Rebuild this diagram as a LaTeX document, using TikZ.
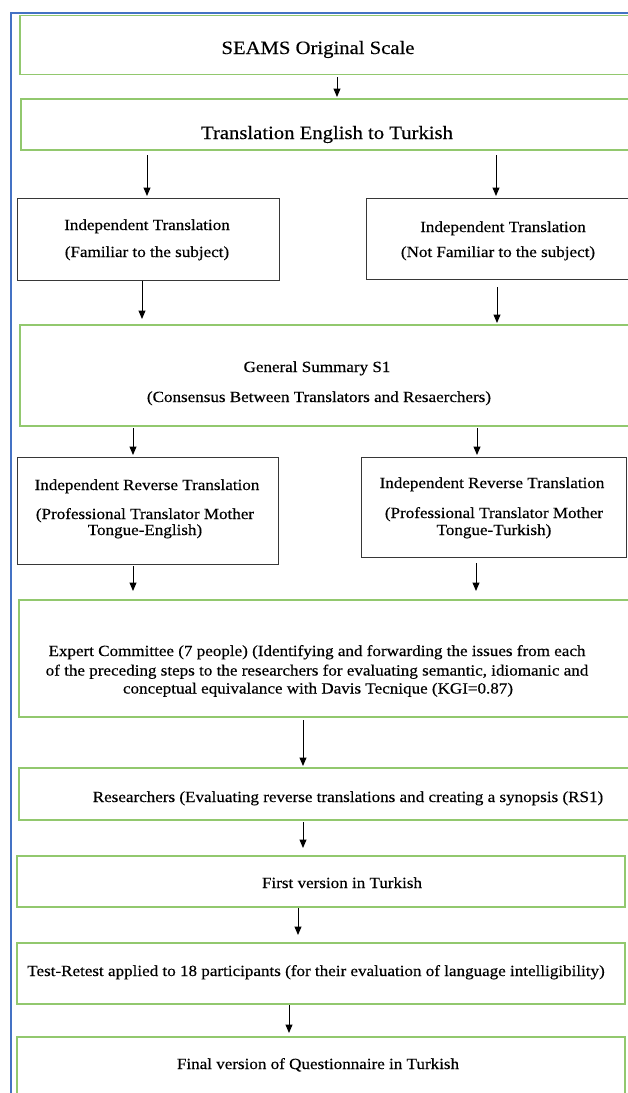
\documentclass[tikz,border=0pt]{standalone}
\usepackage{fontspec}
\setmainfont[FakeStretch=1.1,FakeBold=0.4]{Liberation Serif}
\usetikzlibrary{arrows.meta}
\definecolor{frameblue}{RGB}{68,114,196}
\definecolor{boxgreen}{RGB}{146,200,110}
\definecolor{boxgray}{RGB}{55,55,55}
\tikzset{
  gbox/.style={draw=boxgreen, line width=1.4pt, rectangle, inner sep=0pt, outer sep=0pt, anchor=north west},
  kbox/.style={draw=boxgray, line width=1pt, rectangle, inner sep=0pt, outer sep=0pt, anchor=north west},
  arr/.style={-{Triangle[width=7pt,length=8.5pt]}, line width=1pt, black},
  big/.style={font=\fontsize{18.8}{22}\selectfont, inner sep=0pt, anchor=base},
  sml/.style={font=\fontsize{15.5}{18}\selectfont, inner sep=0pt, anchor=base},
}
\begin{document}
\begin{tikzpicture}[x=1pt,y=-1pt]
\useasboundingbox (0,0) rectangle (628,1093);
\clip (0,0) rectangle (628,1093);
\fill[white] (0,0) rectangle (628,1093);
% frame
\draw[frameblue, line width=1.5pt] (11,1100) -- (11,13) -- (640,13);

% boxes
\node[gbox, minimum width=620pt, minimum height=59pt] (seams) at (20,15.5) {};
\node[gbox, minimum width=619pt, minimum height=51pt] (trans) at (21,99) {};
\node[kbox, minimum width=262pt, minimum height=82pt] (ind1) at (17,198) {};
\node[kbox, minimum width=274pt, minimum height=81pt] (ind2) at (366,198) {};
\node[gbox, minimum width=620pt, minimum height=101pt] (gen) at (20,325) {};
\node[kbox, minimum width=261pt, minimum height=107pt] (rev1) at (17,457) {};
\node[kbox, minimum width=265pt, minimum height=100pt] (rev2) at (361,457) {};
\node[gbox, minimum width=621pt, minimum height=117pt] (expert) at (19,600) {};
\node[gbox, minimum width=621pt, minimum height=52pt] (res) at (19,768) {};
\node[gbox, minimum width=608pt, minimum height=51pt] (first) at (17,856) {};
\node[gbox, minimum width=608pt, minimum height=61pt] (test) at (17,943) {};
\node[gbox, minimum width=608pt, minimum height=70pt] (final) at (17,1037) {};

% texts
\node[big] (tseams) at (318,54) {SEAMS Original Scale};
\node[big] (ttrans) at (327,139) {Translation English to Turkish};
\node[sml] (tind1a) at (147,230) {Independent Translation};
\node[sml] (tind1b) at (147,257) {(Familiar to the subject)};
\node[sml] (tind2a) at (503,232) {Independent Translation};
\node[sml] (tind2b) at (498,257) {(Not Familiar to the subject)};
\node[sml] (tgena) at (317,372) {General Summary S1};
\node[sml] (tgenb) at (319,402) {(Consensus Between Translators and Resaerchers)};
\node[sml] (trev1a) at (147,490) {Independent Reverse Translation};
\node[sml] (trev1b) at (145,519) {(Professional Translator Mother};
\node[sml] (trev1c) at (145,535) {Tongue-English)};
\node[sml] (trev2a) at (492,488) {Independent Reverse Translation};
\node[sml] (trev2b) at (494,518) {(Professional Translator Mother};
\node[sml] (trev2c) at (494,535) {Tongue-Turkish)};
\node[sml] (texpa) at (317,656) {Expert Committee (7 people) (Identifying and forwarding the issues from each};
\node[sml] (texpb) at (317,675.5) {of the preceding steps to the researchers for evaluating semantic, idiomanic and};
\node[sml] (texpc) at (318,693.5) {conceptual equivalance with Davis Tecnique (KGI=0.87)};
\node[sml] (tres) at (348,802) {Researchers (Evaluating reverse translations and creating a synopsis (RS1)};
\node[sml] (tfirst) at (342,888) {First version in Turkish};
\node[sml] (ttest) at (316,976) {Test-Retest applied to 18 participants (for their evaluation of language intelligibility)};
\node[sml] (tfinal) at (318,1069) {Final version of Questionnaire in Turkish};

% arrows
\draw[arr, shorten <=2.5pt, shorten >=2pt] (seams.south -| 337,0) -- (trans.north -| 337,0);
\draw[arr, shorten <=5pt, shorten >=2pt] (trans.south -| 147,0) -- (ind1.north -| 147,0);
\draw[arr, shorten <=5pt, shorten >=2pt] (trans.south -| 496,0) -- (ind2.north -| 496,0);
\draw[arr, shorten <=0.5pt, shorten >=6pt] (ind1.south -| 142,0) -- (gen.north -| 142,0);
\draw[arr, shorten <=8pt, shorten >=2pt] (ind2.south -| 497,0) -- (gen.north -| 497,0);
\draw[arr, shorten <=2pt, shorten >=2pt] (gen.south -| 133,0) -- (rev1.north -| 133,0);
\draw[arr, shorten <=2pt, shorten >=2pt] (gen.south -| 477,0) -- (rev2.north -| 477,0);
\draw[arr, shorten <=2pt, shorten >=9pt] (rev1.south -| 133,0) -- (expert.north -| 133,0);
\draw[arr, shorten <=6pt, shorten >=9pt] (rev2.south -| 476,0) -- (expert.north -| 476,0);
\draw[arr, shorten <=3pt, shorten >=2pt] (expert.south -| 303,0) -- (res.north -| 303,0);
\draw[arr, shorten <=2pt, shorten >=8pt] (res.south -| 303,0) -- (first.north -| 303,0);
\draw[arr, shorten <=1pt, shorten >=8pt] (first.south -| 298,0) -- (test.north -| 298,0);
\draw[arr, shorten <=1pt, shorten >=4pt] (test.south -| 289,0) -- (final.north -| 289,0);
\end{tikzpicture}
\end{document}
